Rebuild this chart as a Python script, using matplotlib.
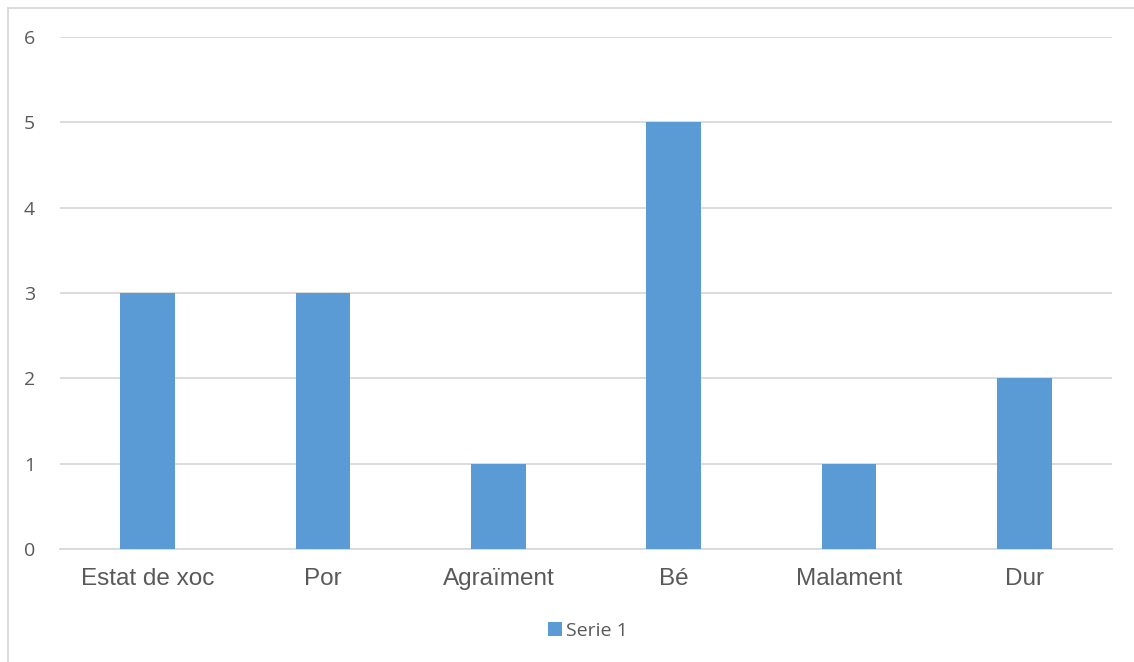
import matplotlib.pyplot as plt
from matplotlib.lines import Line2D
from matplotlib.patches import Patch

# dades del gràfic
categories = ["Estat de xoc", "Por", "Agraïment", "Bé", "Malament", "Dur"]
serie_1 = [3, 3, 1, 5, 1, 2]
y_ticks = [0, 1, 2, 3, 4, 5, 6]

bar_color = "#5B9BD5"
grid_color = "#D9D9D9"
text_color = "#595959"

fig = plt.figure(figsize=(11.34, 6.62), dpi=100)
ax = fig.add_axes([60 / 1134, 1 - 549 / 662, 1052 / 1134, 512 / 662])

x = range(len(categories))
ax.bar(x, serie_1, width=0.31, color=bar_color, zorder=3)

ax.set_xlim(-0.5, len(categories) - 0.5)
ax.set_ylim(0, 6)
ax.set_yticks(y_ticks)
ax.set_xticks(list(x))
ax.set_xticklabels(categories, fontsize=17.5, color=text_color, family="Liberation Sans")
ax.set_yticklabels([str(t) for t in y_ticks], fontsize=14, color=text_color, family="Open Sans")
ax.tick_params(axis="both", length=0)
ax.tick_params(axis="x", pad=14)
ax.tick_params(axis="y", pad=18)

ax.grid(axis="y", color=grid_color, linewidth=1.3, zorder=0)
for side in ["top", "right", "left"]:
    ax.spines[side].set_visible(False)
ax.spines["bottom"].set_color(grid_color)
ax.spines["bottom"].set_linewidth(1.3)

# llegenda a sota
handles = [Patch(facecolor=bar_color, edgecolor="none", label="Serie 1")]
fig.legend(handles=handles, loc="center", bbox_to_anchor=(588 / 1134, 1 - 631 / 662),
           frameon=False, prop={"family": "Open Sans", "size": 14}, labelcolor=text_color,
           handlelength=0.75, handleheight=0.75, handletextpad=0.2)

# vora de l'àrea del gràfic
fig.add_artist(Line2D([7.5 / 1134, 7.5 / 1134], [0, 1 - 7.5 / 662], transform=fig.transFigure,
                      color=grid_color, linewidth=1.3))
fig.add_artist(Line2D([7.5 / 1134, 1], [1 - 7.5 / 662, 1 - 7.5 / 662], transform=fig.transFigure,
                      color=grid_color, linewidth=1.3))

fig.savefig("out.png", dpi=100)
